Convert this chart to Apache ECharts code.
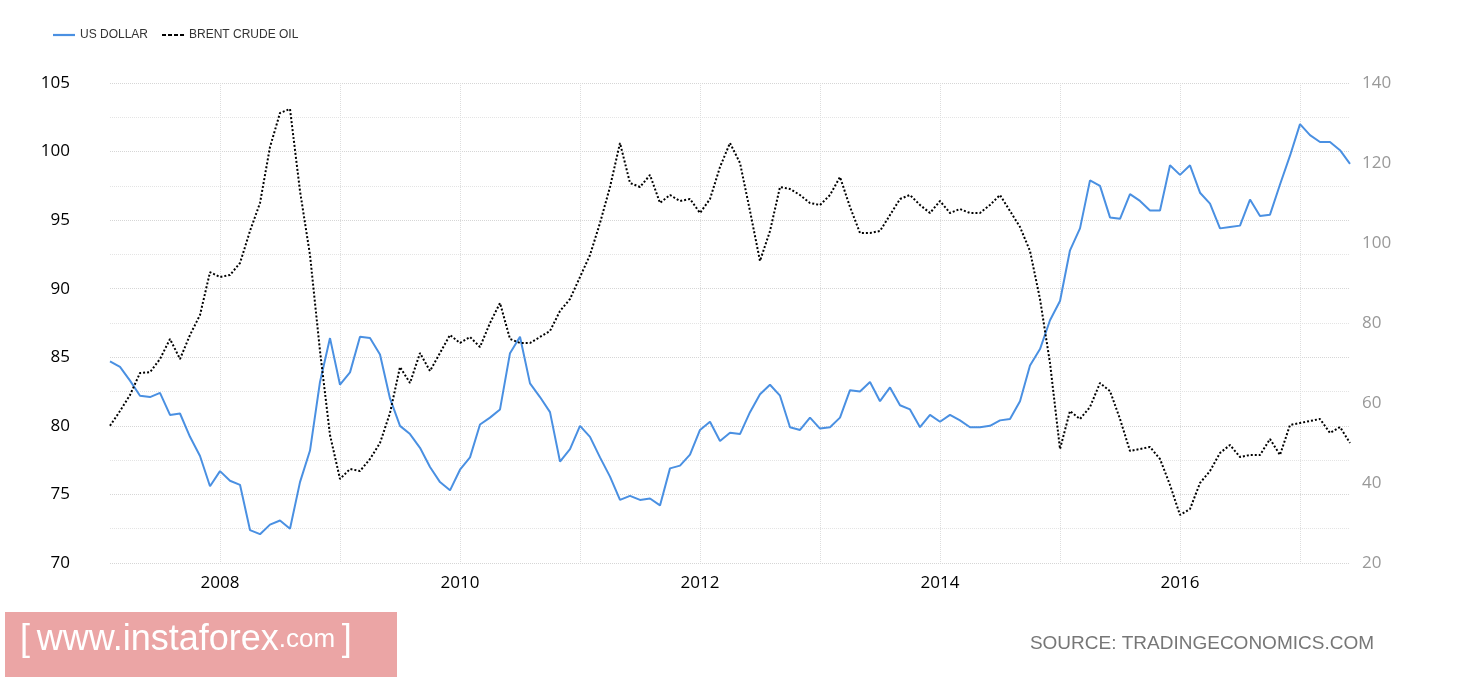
<!DOCTYPE html>
<html><head><meta charset="utf-8">
<script src="https://cdn.jsdelivr.net/npm/echarts@6/dist/echarts.min.js"></script>
<style>html,body{margin:0;background:#fff}#c{width:1460px;height:680px}</style></head>
<body><div id="c"></div>
<script>
const startYear = 2007, startMonth = 2;
const usDollar = [84.7,84.3,83.3,82.2,82.1,82.4,80.8,80.9,79.2,77.8,75.6,
76.7,76.0,75.7,72.4,72.1,72.8,73.1,72.5,75.9,78.2,83.2,86.4,
83.0,83.9,86.5,86.4,85.2,82.0,80.0,79.4,78.4,77.0,75.9,75.3,
76.8,77.7,80.1,80.6,81.2,85.3,86.5,83.1,82.1,81.0,77.4,78.3,
80.0,79.2,77.7,76.3,74.6,74.9,74.6,74.7,74.2,76.9,77.1,77.9,
79.7,80.3,78.9,79.5,79.4,81.0,82.3,83.0,82.2,79.9,79.7,80.6,
79.8,79.9,80.6,82.6,82.5,83.2,81.8,82.8,81.5,81.2,79.9,80.8,
80.3,80.8,80.4,79.9,79.9,80.0,80.4,80.5,81.8,84.4,85.6,87.7,
89.1,92.8,94.4,97.9,97.5,95.2,95.1,96.9,96.4,95.7,95.7,99.0,
98.3,99.0,97.0,96.2,94.4,94.5,94.6,96.5,95.3,95.4,97.6,99.7,
102.0,101.2,100.7,100.7,100.1,99.1];
const brentOil = [54.3,58,62,67.5,67.7,71,76,71,77,82,92.7,
91.5,92,95,103,110,124,132.5,133.5,113,97,73,52,
41,43.5,43,46,50,57.5,69,65,72.5,68,72.5,77,
75,76.5,74,80,85,76,75,75,76.5,78,83,86,
91.5,97,105,114,125,115,114,117,110,112,110.5,111,
107.5,111,119,125,120,108,95.5,103,114,113.5,112,110,
109.5,112,116.5,109,102.5,102.5,103,107,111,112,109.5,107.5,
110.5,107.5,108.5,107.5,107.5,109.5,112,108,104,98,86,70,
48.5,58,56,59,65,63,56,48,48.5,49,46,39.5,
32,33.5,40,43,47.5,49.5,46.5,47,47,51,47,54.5,
55,55.5,56,52.5,54,50];
const months = usDollar.map((_, i) => {
  const m = startMonth - 1 + i;
  return (startYear + Math.floor(m / 12)) + '-' + String(m % 12 + 1).padStart(2, '0');
});
const isJan = (i) => months[i].endsWith('-01');
const chart = echarts.init(document.getElementById('c'));
chart.setOption({
  animation: false,
  legend: {left: 48, top: 24, itemWidth: 22, itemHeight: 8, itemGap: 14,
    textStyle: {fontFamily: 'Liberation Sans Narrow, Liberation Sans', fontSize: 12, color: '#333'},
    data: [{name: 'US DOLLAR', icon: 'path://M0,0H10V1H0Z'}, {name: 'BRENT CRUDE OIL', icon: 'path://M0,0H2V1H0ZM3,0H5V1H3ZM6,0H8V1H6ZM9,0H11V1H9Z'}]},
  grid: {left: 110, right: 110, top: 83, bottom: 117},
  xAxis: {type: 'category', data: months, boundaryGap: false,
    axisLine: {show: false}, axisTick: {show: false},
    axisLabel: {interval: (i) => isJan(i) && (+months[i].slice(0,4)) % 2 === 0,
      formatter: (v) => v.slice(0,4), fontFamily: 'Open Sans', fontSize: 17, color: '#000', margin: 12},
    splitLine: {show: true, interval: (i) => isJan(i), lineStyle: {color: '#ddd', type: 'dotted'}}},
  yAxis: [
    {type: 'value', min: 70, max: 105, interval: 5, position: 'left',
     axisLine: {show: false}, axisTick: {show: false},
     axisLabel: {fontFamily: 'Open Sans', fontSize: 17, color: '#000', margin: 40},
     splitLine: {lineStyle: {color: '#d6d6d6', type: 'dotted'}},
     minorTick: {show: false, splitNumber: 2},
     minorSplitLine: {show: true, lineStyle: {color: '#e4e4e4', type: 'dotted'}}},
    {type: 'value', min: 20, max: 140, interval: 20, position: 'right',
     axisLine: {show: false}, axisTick: {show: false}, splitLine: {show: false},
     axisLabel: {fontFamily: 'Open Sans', fontSize: 17, color: '#999', margin: 12}}
  ],
  series: [
    {name: 'US DOLLAR', type: 'line', data: usDollar, yAxisIndex: 0, showSymbol: false,
     lineStyle: {color: '#4a90e2', width: 2}, itemStyle: {color: '#4a90e2'}},
    {name: 'BRENT CRUDE OIL', type: 'line', data: brentOil, yAxisIndex: 1, showSymbol: false,
     lineStyle: {color: '#000', width: 2, type: [2, 2]}, itemStyle: {color: '#000'}}
  ],
  graphic: [
    {type: 'rect', left: 5, top: 612, shape: {width: 392, height: 65}, style: {fill: '#eba5a5'}},
    {type: 'text', left: 20, top: 622, style: {text: '{b|[}  {a|www.instaforex}{c|.com}  {b|]}', fill: '#fff',
      rich: {a: {fontSize: 36, fontFamily: 'Liberation Sans Narrow, Liberation Sans', fill: '#fff'},
             b: {fontSize: 36, fontFamily: 'Liberation Sans', fill: '#fff'},
             c: {fontSize: 26, fontFamily: 'Liberation Sans Narrow, Liberation Sans', fill: '#fff'}}}},
    {type: 'text', right: 86, top: 634, style: {text: 'SOURCE: TRADINGECONOMICS.COM', fill: '#777', font: '19px "Liberation Sans Narrow", "Liberation Sans"'}}
  ]
});
</script></body></html>
